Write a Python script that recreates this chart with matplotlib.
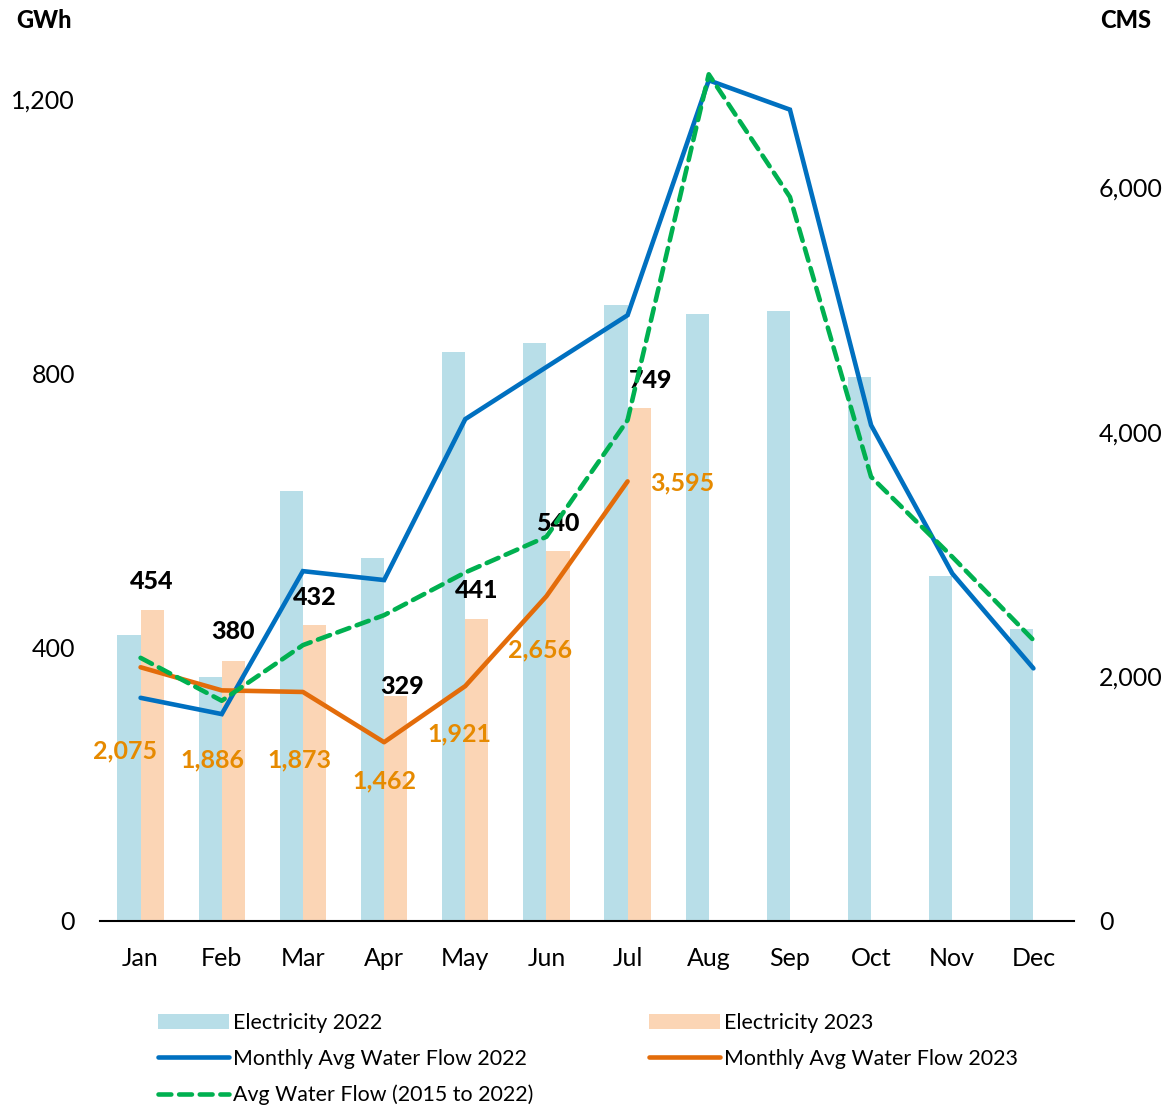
import matplotlib.pyplot as plt
import numpy as np

plt.rcParams['font.family'] = ['Lato', 'DejaVu Sans']

# --- data ---
months = ["Jan", "Feb", "Mar", "Apr", "May", "Jun", "Jul", "Aug", "Sep", "Oct", "Nov", "Dec"]
elec_2022 = [418, 356, 628, 530, 831, 844, 899, 886, 891, 794, 504, 426]
elec_2023 = [454, 380, 432, 329, 441, 540, 749]
flow_2022 = [1825, 1692, 2861, 2788, 4104, 4530, 4954, 6875, 6635, 4055, 2842, 2066]
flow_2023 = [2075, 1886, 1873, 1462, 1921, 2656, 3595]
flow_avg = [2152, 1801, 2256, 2501, 2850, 3142, 4096, 6924, 5921, 3632, 2978, 2297]

# label offsets in pixels (manual placement as in the source chart)
elec_lbl_off = [(0, 29), (0, 29), (0, 28), (6, 9), (0, 29), (0, 28), (11, 28)]
flow_lbl_off = [(-16, -84), (-9, -70), (-3, -68), (0, -39), (-6, -48), (-6, -54), (55, -2)]

c_bar22 = "#B8DEE8"
c_bar23 = "#FBD5B5"
c_blue = "#0070C0"
c_orange = "#E36C0A"
c_orange_txt = "#E68A00"
c_green = "#00B050"

fig = plt.figure(figsize=(11.68, 11.08), dpi=100)
ax = fig.add_axes([100 / 1168, 1 - 921 / 1108, 974 / 1168, 856 / 1108])
ax2 = ax.twinx()

x = np.arange(len(months))
w = 0.285
b22 = ax.bar(x - w / 2, elec_2022, width=w, color=c_bar22, label="Electricity 2022", zorder=1)
x23 = np.arange(len(elec_2023))
b23 = ax.bar(x23 + w / 2, elec_2023, width=w, color=c_bar23, label="Electricity 2023", zorder=1)

l22, = ax2.plot(x, flow_2022, color=c_blue, lw=3.3, label="Monthly Avg Water Flow 2022",
                solid_capstyle="round", solid_joinstyle="miter")
l23, = ax2.plot(x23, flow_2023, color=c_orange, lw=3.3, label="Monthly Avg Water Flow 2023",
                solid_capstyle="round")
lavg, = ax2.plot(x, flow_avg, color=c_green, lw=3.3, linestyle=(0, (2.8, 1.7)),
                 label="Avg Water Flow (2015 to 2022)", dash_capstyle="round")

# data labels
for i, v in enumerate(elec_2023):
    ax.annotate(f"{v:,}", (x23[i] + w / 2, v), xytext=elec_lbl_off[i], textcoords="offset pixels",
                ha="center", va="center", fontsize=18, fontweight="black", color="black")
for i, v in enumerate(flow_2023):
    ax2.annotate(f"{v:,}", (x23[i], v), xytext=flow_lbl_off[i], textcoords="offset pixels",
                 ha="center", va="center", fontsize=18, fontweight="bold", color=c_orange_txt)

# axes
ax.set_xlim(-0.5, 11.5)
ax.set_ylim(0, 1250)
ax2.set_ylim(0, 7000)
ax.set_yticks([0, 400, 800, 1200])
ax.set_yticklabels(["0", "400", "800", "1,200"])
ax2.set_yticks([0, 2000, 4000, 6000])
ax2.set_yticklabels(["0", "2,000", "4,000", "6,000"])
ax.set_xticks(x)
ax.set_xticklabels(months)

for a in (ax, ax2):
    for s in ["top", "left", "right", "bottom"]:
        a.spines[s].set_visible(False)
    a.tick_params(length=0, labelsize=18)
ax.spines["bottom"].set_visible(True)
ax.spines["bottom"].set_color("black")
ax.spines["bottom"].set_linewidth(1.5)
ax.tick_params(axis="y", pad=18)
ax.tick_params(axis="x", pad=19)
ax2.tick_params(axis="y", pad=18)
ax2.set_zorder(ax.get_zorder() + 1)
ax2.patch.set_visible(False)

fig.text(44 / 1168, 1 - 20 / 1108, "GWh", ha="center", va="center", fontsize=17, fontweight="black")
fig.text(1126 / 1168, 1 - 20 / 1108, "CMS", ha="center", va="center", fontsize=17, fontweight="black")

handles = [b22, l22, lavg, b23, l23]
fig.legend(handles=handles, labels=[h.get_label() for h in handles], ncol=2, frameon=False,
           loc="upper left", bbox_to_anchor=(158 / 1168, 1 - 1013 / 1108), borderpad=0,
           borderaxespad=0, fontsize=15.4, handlelength=3.3, handletextpad=0.22,
           columnspacing=5.4, labelspacing=0.74)

fig.savefig("out.png", dpi=100)
